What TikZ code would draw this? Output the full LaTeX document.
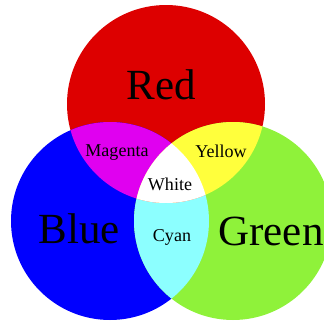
\documentclass[tikz,border=0pt]{standalone}
\usepackage{fontspec}
\setmainfont{Liberation Serif}
\usepackage{xcolor}
\definecolor{LightRed}{HTML}{DD0000}
\definecolor{LightBlue}{HTML}{0000FF}
\definecolor{LightGreen}{HTML}{8FF23A}
\definecolor{MixMagenta}{HTML}{E000F0}
\definecolor{MixYellow}{HTML}{FFFF3C}
\definecolor{MixCyan}{HTML}{8CFFFF}

\begin{document}
\begin{tikzpicture}[
  primary/.style={
    inner sep=0pt,
    anchor=base,
    font=\fontsize{36.7}{40}\selectfont
  },
  mixed/.style={
    inner sep=0pt,
    anchor=base,
    font=\fontsize{15.4}{17}\selectfont
  }
]
\useasboundingbox (0,0) rectangle (9.72,9.63);

\coordinate (redc) at (4.98,6.51);
\coordinate (bluec) at (3.30,3.00);
\coordinate (greenc) at (6.99,3.00);
\def\rad{2.97}

% the three light circles
\fill[LightRed] (redc) circle (\rad);
\fill[LightBlue] (bluec) circle (\rad);
\fill[LightGreen] (greenc) circle (\rad);

% overlaps
\begin{scope}
  \clip (bluec) circle (\rad);
  \fill[MixCyan] (greenc) circle (\rad);
\end{scope}
\begin{scope}
  \clip (redc) circle (\rad);
  \fill[MixMagenta] (bluec) circle (\rad);
  \fill[MixYellow] (greenc) circle (\rad);
  \clip (bluec) circle (\rad);
  \fill[white] (greenc) circle (\rad);
\end{scope}

\node[primary] (red) at (4.83,6.66) {Red};
\node[primary] (blue) at (2.37,2.34) {Blue};
\node[primary] (green) at (8.13,2.28) {Green};
\node[mixed] (magenta) at (3.51,4.95) {Magenta};
\node[mixed] (yellow) at (6.63,4.92) {Yellow};
\node[mixed] (white) at (5.10,3.93) {White};
\node[mixed] (cyan) at (5.16,2.40) {Cyan};
\end{tikzpicture}
\end{document}
